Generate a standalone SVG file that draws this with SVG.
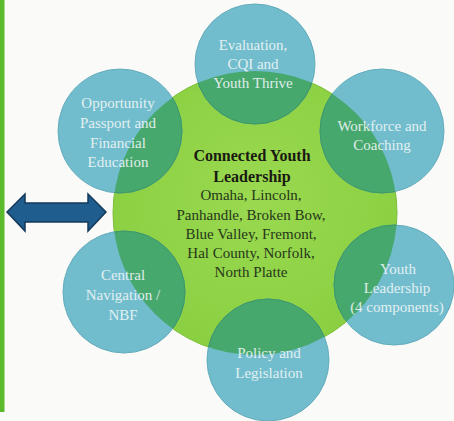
<svg xmlns="http://www.w3.org/2000/svg" width="454" height="421" viewBox="0 0 454 421">
<style>
.sm{fill:#72BDCD;stroke:#62ACBC;stroke-width:1}
.ov{fill:#47A86E;stroke:#3E9863;stroke-width:1}
.wt{font-family:"Liberation Serif",serif;font-size:15px;fill:#EEF6F6;text-anchor:middle;opacity:0.9}
.ct{font-family:"Liberation Serif",serif;font-size:16px;fill:#1A1A12;text-anchor:middle;font-weight:bold}
.cl{font-family:"Liberation Serif",serif;font-size:15px;fill:#26361A;text-anchor:middle}
</style>
<defs>
<clipPath id="cg"><circle cx="255" cy="213" r="142"/></clipPath>
<radialGradient id="gg" cx="0.5" cy="0.45" r="0.6">
<stop offset="0" stop-color="#9AD950"/>
<stop offset="1" stop-color="#89CF40"/>
</radialGradient>
</defs>
<rect width="454" height="421" fill="#FAFAF8"/>
<rect x="0" y="0" width="4.5" height="412" fill="#5CB92C"/>
<g id="center">
<circle cx="255" cy="213" r="142" fill="url(#gg)" stroke="#7CBF38" stroke-width="1"/>
<text class="ct" x="252" y="161">Connected Youth</text>
<text class="ct" x="252" y="182">Leadership</text>
<text class="cl" x="251" y="200">Omaha, Lincoln,</text>
<text class="cl" x="251" y="220">Panhandle, Broken Bow,</text>
<text class="cl" x="251" y="239">Blue Valley, Fremont,</text>
<text class="cl" x="251" y="258">Hal County, Norfolk,</text>
<text class="cl" x="251" y="277">North Platte</text>
</g>
<g id="evaluation">
<circle class="sm" cx="255" cy="64" r="60"/>
<circle class="ov" cx="255" cy="64" r="60" clip-path="url(#cg)"/>
<text class="wt" x="253" y="50">Evaluation,</text>
<text class="wt" x="253" y="69">CQI and</text>
<text class="wt" x="253" y="88">Youth Thrive</text>
</g>
<g id="opportunity">
<circle class="sm" cx="120" cy="131" r="62"/>
<circle class="ov" cx="120" cy="131" r="62" clip-path="url(#cg)"/>
<text class="wt" x="118" y="108">Opportunity</text>
<text class="wt" x="118" y="128">Passport and</text>
<text class="wt" x="118" y="148">Financial</text>
<text class="wt" x="118" y="167">Education</text>
</g>
<g id="workforce">
<circle class="sm" cx="382" cy="131" r="62"/>
<circle class="ov" cx="382" cy="131" r="62" clip-path="url(#cg)"/>
<text class="wt" x="382" y="131">Workforce and</text>
<text class="wt" x="382" y="150">Coaching</text>
</g>
<g id="central-navigation">
<circle class="sm" cx="124" cy="292" r="61"/>
<circle class="ov" cx="124" cy="292" r="61" clip-path="url(#cg)"/>
<text class="wt" x="123" y="280">Central</text>
<text class="wt" x="123" y="300">Navigation /</text>
<text class="wt" x="123" y="320">NBF</text>
</g>
<g id="youth-leadership">
<circle class="sm" cx="394" cy="285" r="60"/>
<circle class="ov" cx="394" cy="285" r="60" clip-path="url(#cg)"/>
<text class="wt" x="398" y="274">Youth</text>
<text class="wt" x="397" y="293">Leadership</text>
<text class="wt" x="397" y="312">(4 components)</text>
</g>
<g id="policy">
<circle class="sm" cx="268" cy="360" r="61"/>
<circle class="ov" cx="268" cy="360" r="61" clip-path="url(#cg)"/>
<text class="wt" x="269" y="358">Policy and</text>
<text class="wt" x="269" y="378">Legislation</text>
</g>
<g id="connectors">
<path d="M7,212 L25,194 L25,203 L88,203 L88,194 L106,212 L88,231 L88,222 L25,222 L25,231 Z" fill="#1F5D8E" stroke="#15395A" stroke-width="1.5" stroke-linejoin="miter"/>
</g>
</svg>
